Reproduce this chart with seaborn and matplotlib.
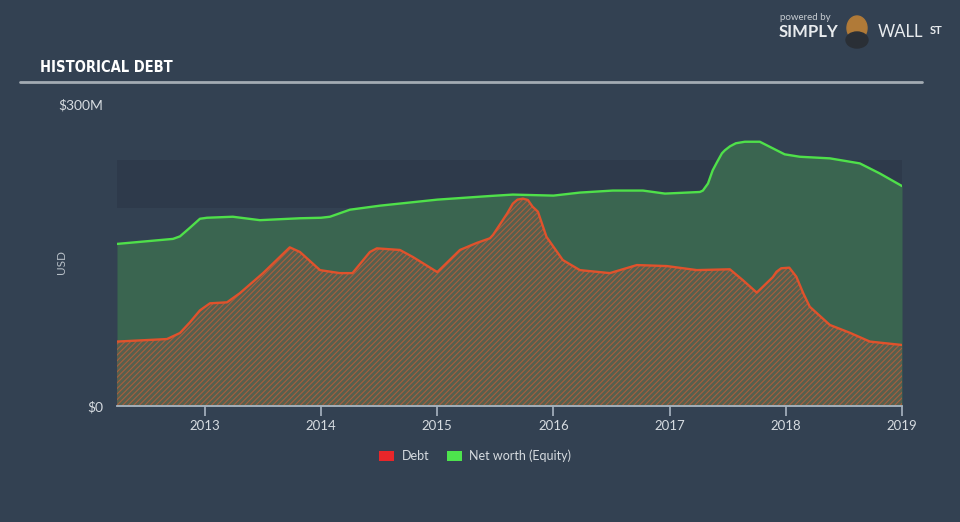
import numpy as np
import pandas as pd
import matplotlib
matplotlib.use("Agg")
import matplotlib.pyplot as plt
import seaborn as sns
from matplotlib.patches import Patch, Ellipse

# ---- data (values in $M, dates as fractional years) ----
equity_dates = [2012.243, 2012.725, 2012.785, 2012.87, 2012.957, 2013.017, 2013.24, 2013.473,
                2013.818, 2014.0, 2014.076, 2014.248, 2014.506, 2015.0, 2015.453, 2015.65,
                2016.0, 2016.227, 2016.51, 2016.77, 2016.96, 2017.26, 2017.286, 2017.33,
                2017.37, 2017.41, 2017.45, 2017.475, 2017.52, 2017.57, 2017.647, 2017.776,
                2017.99, 2018.12, 2018.379, 2018.637, 2018.809, 2019.0]
equity_values = [161, 166, 168.5, 177, 186, 187, 188, 184.6,
                 186.5, 187, 188, 195, 199, 205, 208.6, 210,
                 209, 212, 214, 214, 211, 212.6, 214, 221,
                 234, 242.7, 251, 254, 258, 261, 262.5, 262.5,
                 250, 247.6, 246, 241, 231, 218.5]

debt_dates = [2012.243, 2012.673, 2012.785, 2012.87, 2012.957, 2013.043, 2013.19, 2013.30,
              2013.50, 2013.73, 2013.818, 2013.99, 2014.16, 2014.27, 2014.42, 2014.48,
              2014.678, 2014.79, 2015.0, 2015.195, 2015.34, 2015.453, 2015.48, 2015.6,
              2015.65, 2015.69, 2015.737, 2015.78, 2015.82, 2015.866, 2015.94, 2016.08,
              2016.227, 2016.485, 2016.718, 2016.976, 2017.234, 2017.518, 2017.63, 2017.75,
              2017.888, 2017.92, 2017.96, 2018.03, 2018.09, 2018.15, 2018.206, 2018.379,
              2018.55, 2018.723, 2019.0]
debt_values = [64, 66.5, 72.5, 83, 95, 102, 103, 112,
               132, 157.6, 153, 135, 132, 132, 153, 156.6,
               155, 148, 133, 155, 162, 166.6, 170, 191,
               201, 205, 206, 204.6, 198, 193, 168, 145,
               135, 132, 140, 139, 135, 135.8, 125, 112.6,
               128, 133.4, 136.8, 137.4, 128.5, 112, 98.6, 80.5,
               72.8, 64, 60.6]

year_ticks = [2013, 2014, 2015, 2016, 2017, 2018, 2019]
year_labels = ["2013", "2014", "2015", "2016", "2017", "2018", "2019"]
y_ticks = [0, 300]
y_labels = ["$0", "$300M"]
legend_labels = ["Debt", "Net worth (Equity)"]

# ---- styling ----
BG = "#334152"
BAND = "#2E3A4B"
GREEN_LINE = "#4FE04A"
GREEN_FILL = "#3A6550"
RED_LINE = "#E0522C"
HATCH = "#A85E3D"
AXIS = "#A9B5C2"
TEXT = "#D6DBE0"

sns.set_theme(style="dark")
plt.rcParams["font.family"] = ["Lato", "DejaVu Sans"]
plt.rcParams["hatch.linewidth"] = 0.8

fig = plt.figure(figsize=(9.6, 5.22), dpi=100, facecolor=BG)
ax = fig.add_axes([117 / 960, (522 - 406) / 522, (902 - 117) / 960, (406 - 104) / 522])
ax.set_facecolor(BG)

eq = pd.DataFrame({"date": equity_dates, "value": equity_values})
db = pd.DataFrame({"date": debt_dates, "value": debt_values})

# darker band in plot area
ax.axhspan(196.7, 244.4, color=BAND, zorder=0, lw=0)

ax.fill_between(eq["date"], 0, eq["value"], color=GREEN_FILL, lw=0, zorder=1)
ax.fill_between(db["date"], 0, db["value"], facecolor="#56604E",
                edgecolor=HATCH, hatch="//////", lw=0, zorder=2)

sns.lineplot(data=eq, x="date", y="value", color=GREEN_LINE, lw=1.7, ax=ax, zorder=4)
sns.lineplot(data=db, x="date", y="value", color=RED_LINE, lw=1.7, ax=ax, zorder=4)

ax.set_xlim(equity_dates[0], 2019.0)
ax.set_ylim(0, 300)
ax.set_xlabel("")
ax.set_ylabel("")

for s in ["top", "right", "left"]:
    ax.spines[s].set_visible(False)
ax.spines["bottom"].set_color(AXIS)
ax.spines["bottom"].set_linewidth(1.3)
ax.spines["bottom"].set_zorder(5)

ax.set_xticks(year_ticks)
ax.set_xticklabels(year_labels)
ax.set_yticks(y_ticks)
ax.set_yticklabels(y_labels)
ax.tick_params(axis="x", colors=AXIS, length=7, width=1.2, direction="out", pad=3,
               labelcolor=TEXT, labelsize=9.5, bottom=True)
ax.tick_params(axis="y", length=0, pad=10, labelcolor=TEXT, labelsize=10)
ax.grid(False)

# y label
fig.text(62 / 960, 1 - 262 / 522, "USD", rotation=90, color="#B8C0C8", fontsize=8.5,
         ha="center", va="center")

# title + rule
fig.text(40 / 960, 1 - 68 / 522, "HISTORICAL DEBT", color="white", fontsize=10.5,
         fontweight="bold", fontstretch="condensed",
         family=["Liberation Sans Narrow", "DejaVu Sans"], ha="left", va="center")
fig.add_artist(plt.Line2D([20 / 960, 922 / 960], [1 - 82 / 522, 1 - 82 / 522],
                          color="#A3ABB3", lw=2))

# logo
fig.text(805 / 960, 1 - 18 / 522, "powered by", color="#C8CDD2", fontsize=7, ha="center", va="center")
fig.text(808 / 960, 1 - 32 / 522, "SIMPLY", color="#E8EBEE", fontsize=12, fontweight="bold",
         ha="center", va="center")
fig.text(878 / 960, 1 - 32 / 522, "WALL", color="#E8EBEE", fontsize=12,
         ha="left", va="center")
fig.text(930 / 960, 1 - 30 / 522, "ST", color="#E8EBEE", fontsize=8, fontweight="bold",
         ha="left", va="center")
fig.add_artist(Ellipse((857 / 960, 1 - 28 / 522), 20 / 960, 24 / 522,
                       color="#B07A38", transform=fig.transFigure))
fig.add_artist(Ellipse((857 / 960, 1 - 40 / 522), 22 / 960, 16 / 522,
                       color="#2A2F36", transform=fig.transFigure))

# legend
handles = [Patch(facecolor="#E8262A", edgecolor="none"), Patch(facecolor="#4DE34D", edgecolor="none")]
leg = fig.legend(handles, legend_labels, loc="center", bbox_to_anchor=(475 / 960, 1 - 456 / 522),
                 ncol=2, frameon=False, fontsize=9, handlelength=1.2, handleheight=0.9,
                 handletextpad=0.6, columnspacing=1.4)
for t in leg.get_texts():
    t.set_color(TEXT)

fig.savefig("out.png", dpi=100, facecolor=BG)
